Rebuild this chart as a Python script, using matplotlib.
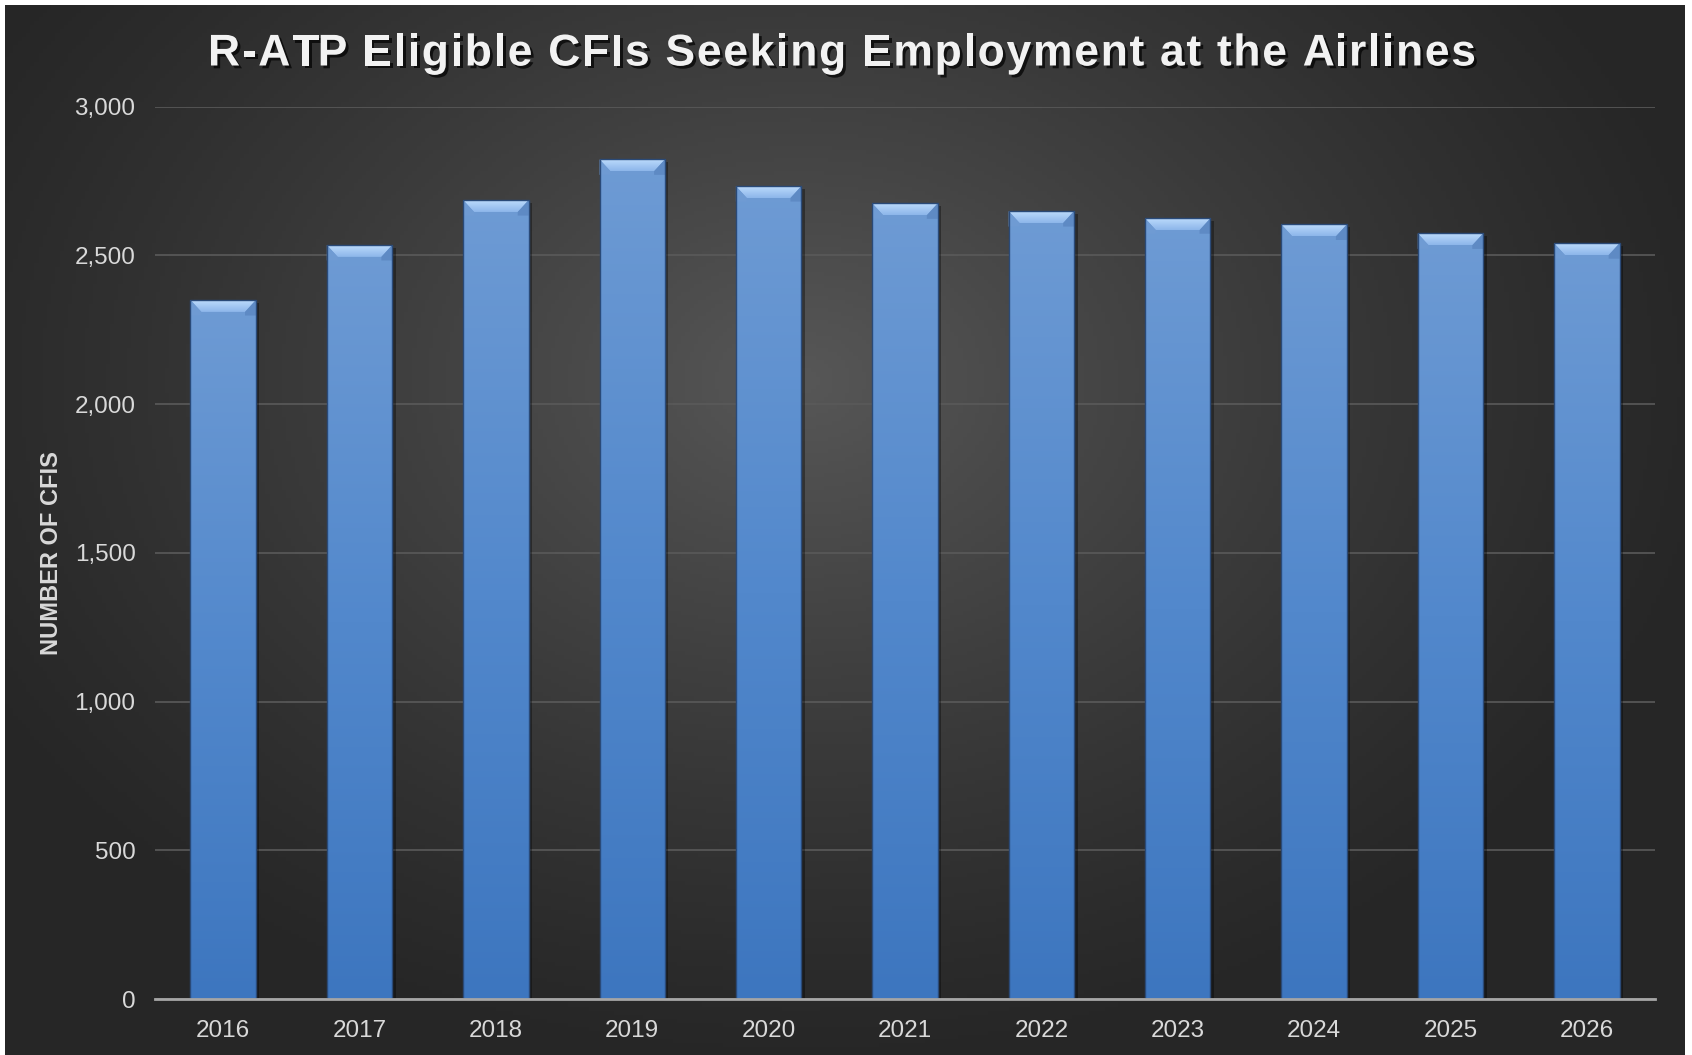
import numpy as np
import matplotlib.pyplot as plt
from matplotlib.patches import Polygon, Rectangle
from matplotlib.colors import LinearSegmentedColormap
import matplotlib.patheffects as pe

plt.rcParams['font.family'] = ['Liberation Sans', 'DejaVu Sans']

# data
years = ['2016', '2017', '2018', '2019', '2020', '2021', '2022', '2023', '2024', '2025', '2026']
cfis = [2350, 2535, 2686, 2823, 2733, 2675, 2649, 2625, 2604, 2574, 2541]
yticks = [0, 500, 1000, 1500, 2000, 2500, 3000]
title = 'R-ATP Eligible CFIs Seeking Employment at the Airlines'

W, H = 1692, 1055
fig = plt.figure(figsize=(W / 100, H / 100), dpi=100, facecolor='white')

# radial dark background (lighter in the upper middle)
bg = fig.add_axes([0, 0, 1, 1], zorder=-5)
bg.set_xlim(0, W)
bg.set_ylim(H, 0)
bg.axis('off')
gx, gy = np.meshgrid(np.linspace(5, 1685, 400), np.linspace(5, H, 260))
r = np.sqrt(((gx - 800) / 950.0) ** 2 + ((gy - 380) / 700.0) ** 2)
shade = np.clip(1 - r, 0, 1) ** 1.2
bgcmap = LinearSegmentedColormap.from_list('bg', ['#262626', '#575757'])
bg.imshow(shade, cmap=bgcmap, extent=(5, 1685, H, 5), aspect='auto', vmin=0, vmax=1)

ax = fig.add_axes([155 / W, 1 - 999 / H, 1500 / W, (999 - 106.7) / H])
ax.set_facecolor('none')

x = np.arange(len(years))
width = 0.48
bars = ax.bar(x, cfis, width=width, color='none', edgecolor='none', zorder=3)

barcmap = LinearSegmentedColormap.from_list('bar', ['#3d76bf', '#5288cc', '#6e9bd4'])
grad = np.linspace(0, 1, 256).reshape(-1, 1)
bevcmap = LinearSegmentedColormap.from_list('bev', ['#8db6ea', '#bcdbfc'])
dx = 0.08
dy = 40
for b in bars:
    x0 = b.get_x()
    x1 = x0 + b.get_width()
    h = b.get_height()
    # soft shadow to the right
    ax.add_patch(Rectangle((x0 + 0.025, 0), b.get_width(), h - 10, color='black', alpha=0.35, lw=0, zorder=2))
    im = ax.imshow(grad, cmap=barcmap, extent=(x0, x1, 0, h), origin='lower', aspect='auto', zorder=3)
    im.set_clip_path(b)
    # bevel on top
    top = Polygon([(x0, h), (x1, h), (x1 - dx, h - dy), (x0 + dx, h - dy)],
                  closed=True, facecolor='none', edgecolor='none', zorder=4)
    ax.add_patch(top)
    bim = ax.imshow(grad, cmap=bevcmap, extent=(x0, x1, h - dy, h), origin='lower', aspect='auto', zorder=4)
    bim.set_clip_path(top)
    ax.add_patch(Polygon([(x0, h), (x0 + dx, h - dy), (x0 + dx, h - dy - 12), (x0, h - dy - 12)],
                         closed=True, facecolor='#6f9bd3', edgecolor='none', zorder=4))
    ax.add_patch(Polygon([(x1, h), (x1 - dx, h - dy), (x1 - dx, h - dy - 12), (x1, h - dy - 12)],
                         closed=True, facecolor='#5e8ac4', edgecolor='none', zorder=4))
    ax.add_patch(Rectangle((x0, 0), b.get_width(), h, facecolor='none', edgecolor='#2a4a78', lw=1, zorder=5))

ax.set_xlim(-0.5, len(years) - 0.5)
ax.set_ylim(0, 3000)
ax.set_yticks(yticks)
ax.set_yticklabels(['{:,}'.format(v) for v in yticks])
ax.set_xticks(x)
ax.set_xticklabels(years)
ax.tick_params(axis='both', length=0, colors='#d9d9d9', labelsize=17.5)
ax.tick_params(axis='y', pad=14)
ax.tick_params(axis='x', pad=15)
ax.grid(axis='y', color='#5a5a5a', lw=1.2, zorder=1)
ax.set_axisbelow(True)
for s in ['top', 'right', 'left']:
    ax.spines[s].set_visible(False)
ax.spines['bottom'].set_color('#a6a6a6')
ax.spines['bottom'].set_linewidth(2)
ax.spines['bottom'].set_zorder(6)

fig.text(52 / W, 1 - 553 / H, 'NUMBER OF CFIS', rotation=90, ha='center', va='center',
         color='#d9d9d9', fontsize=17, fontweight='bold')

# title with wide letter spacing, placed char by char
renderer = fig.canvas.get_renderer()
tprops = dict(fontsize=32, fontweight='bold', color='#f2f2f2')


def text_w(s):
    t = fig.text(0, 0, s + 'x', **tprops)
    w = t.get_window_extent(renderer).width
    t.remove()
    return w


xw = text_w('')
natural = text_w(title) - xw
left_px, right_px = 208, 1476
spacing = (right_px - left_px - natural) / (len(title) - 1)
shadow = [pe.withSimplePatchShadow(offset=(2, -2), shadow_rgbFace='black', alpha=0.7)]
for i, ch in enumerate(title):
    if ch == ' ':
        continue
    px = left_px + (text_w(title[:i]) - xw) + i * spacing
    fig.text(px / W, 1 - 54 / H, ch, ha='left', va='center', path_effects=shadow, **tprops)

fig.savefig('out.png', dpi=100, facecolor=fig.get_facecolor())
